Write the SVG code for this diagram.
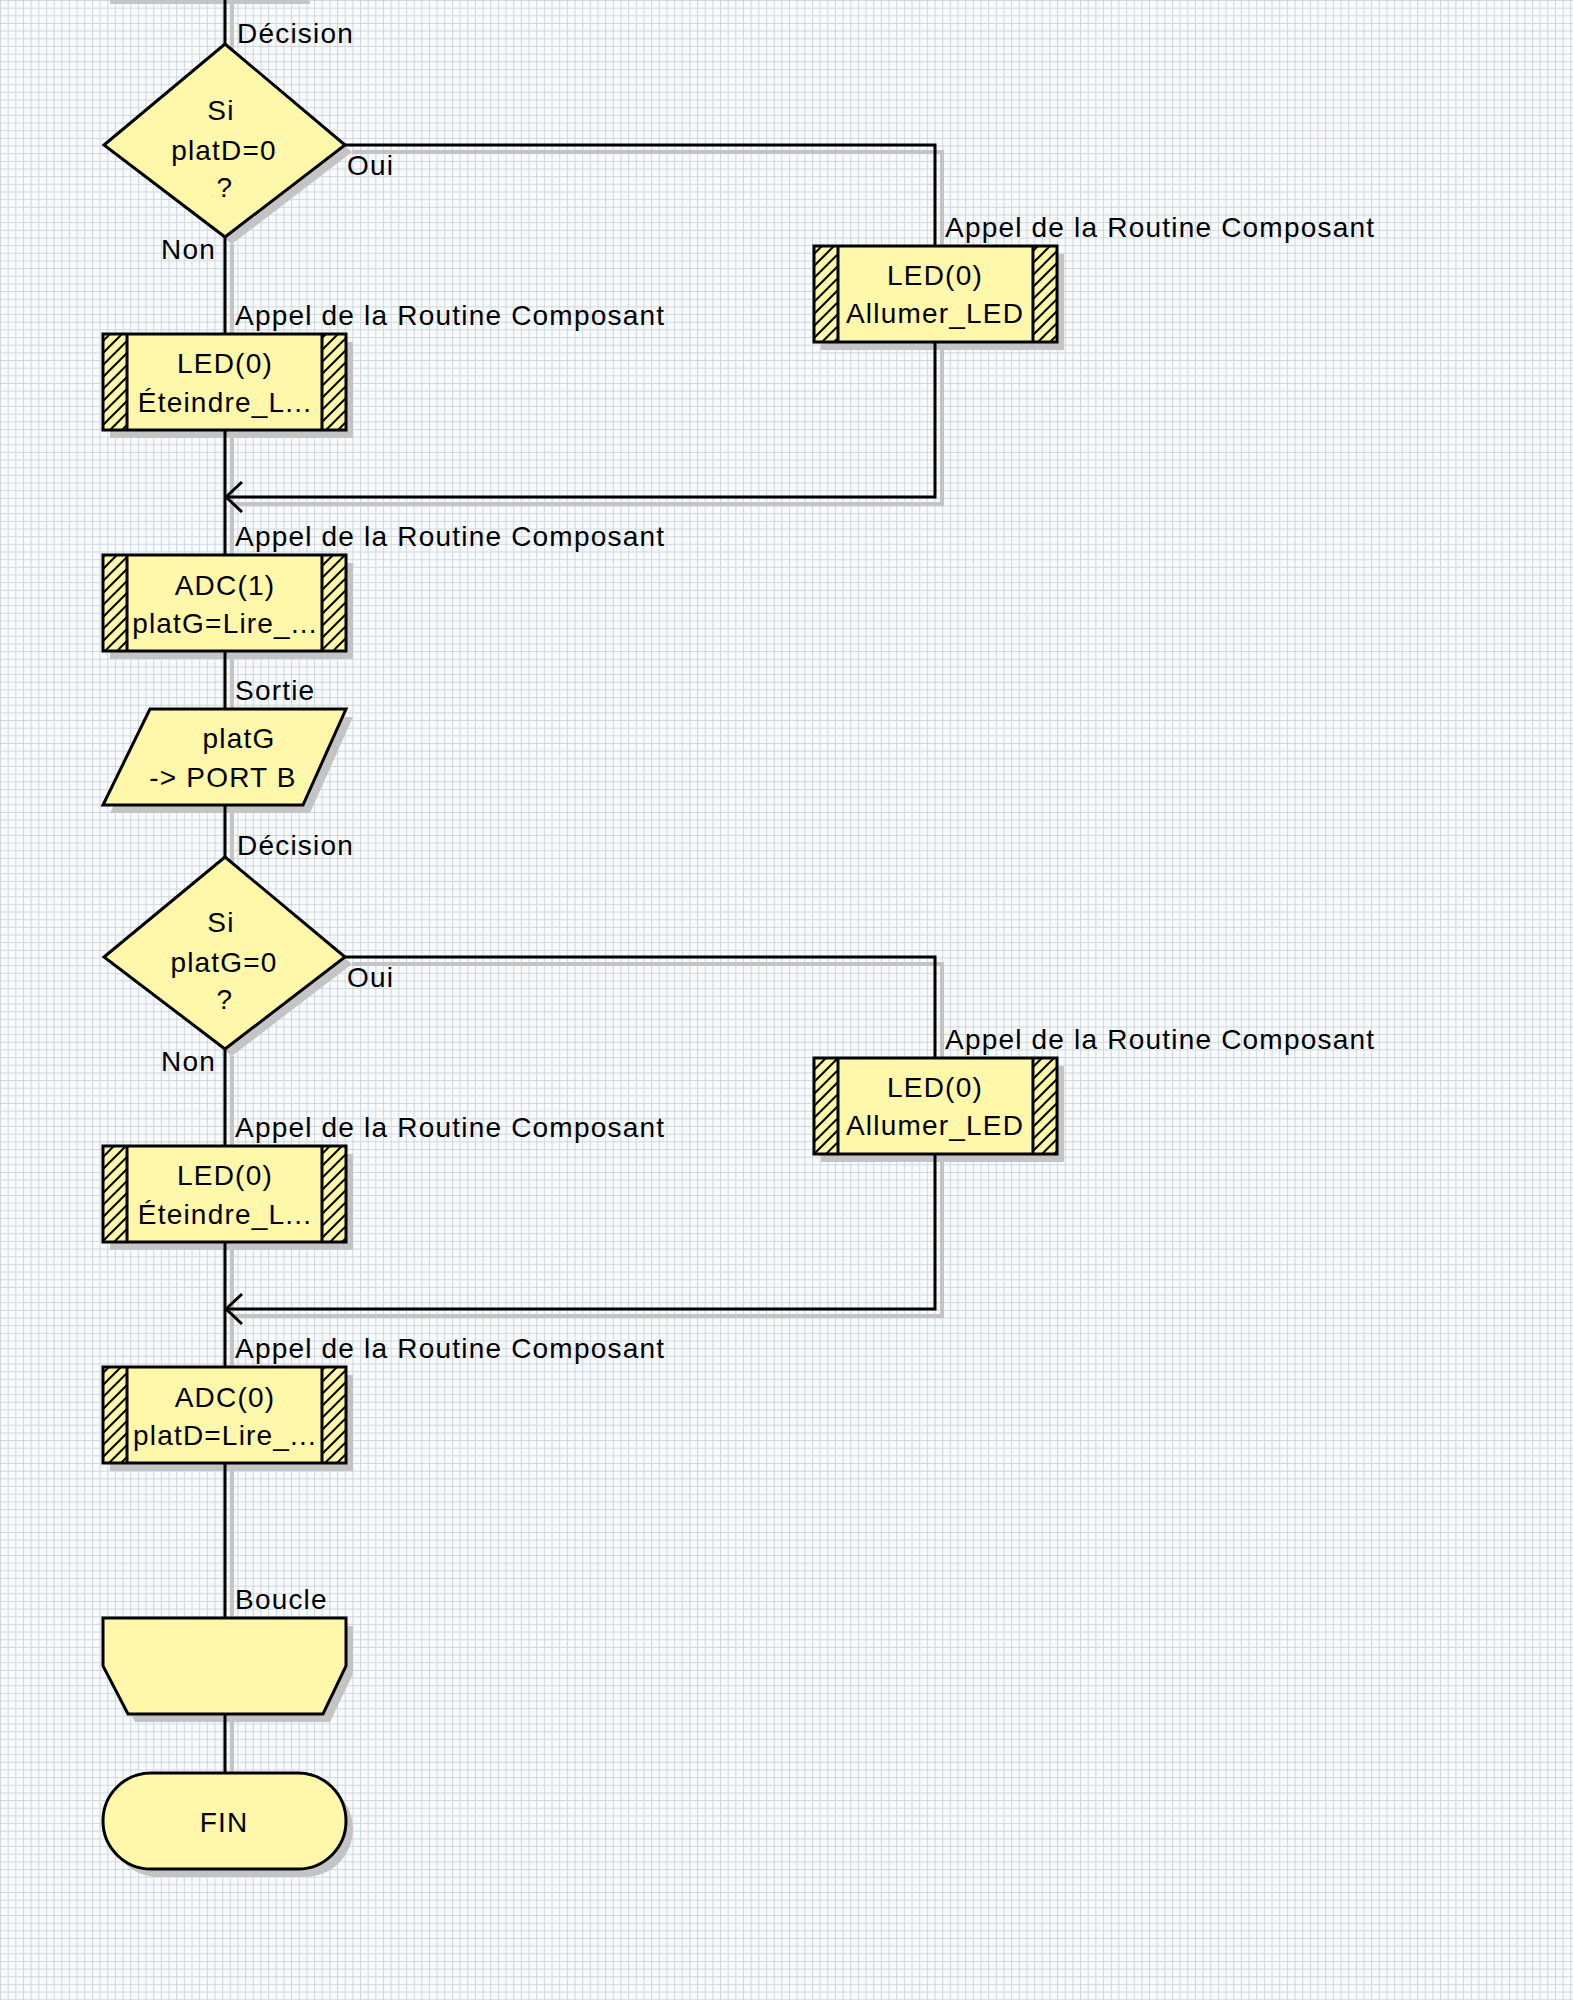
<svg xmlns="http://www.w3.org/2000/svg" width="1573" height="2000" viewBox="0 0 1573 2000">
<defs>
<style>
.t{font-family:"Liberation Sans",Arial,sans-serif;font-size:28px;letter-spacing:1.2px;fill:#000}
.m{text-anchor:middle}
.e{text-anchor:end}
.fillY{fill:#fff7aa}
.out{fill:none;stroke:#000;stroke-width:3;stroke-linejoin:miter}
.node{fill:#fff7aa;stroke:#000;stroke-width:3}
.sh{fill:#c4c4c4}
.c{fill:none;stroke:#000;stroke-width:3}
.cs{fill:none;stroke:#c4c4c4;stroke-width:4}
</style>
<pattern id="grid" width="7.66" height="7.66" patternUnits="userSpaceOnUse">
<rect width="7.66" height="7.66" fill="#f8fafc"/>
<path d="M0,0.5 H7.66 M0.5,0 V7.66" stroke="#cdd7de" stroke-width="1"/>
</pattern>
<pattern id="hatch" width="12" height="12" patternUnits="userSpaceOnUse">
<rect width="12" height="12" fill="#fff7aa"/>
<path d="M-3,3 L3,-3 M0,12 L12,0 M9,15 L15,9" stroke="#000" stroke-width="2"/>
</pattern>
<marker id="arr" markerUnits="userSpaceOnUse" markerWidth="40" markerHeight="40" refX="0" refY="0" orient="auto" overflow="visible">
<path d="M-16,-15 L0,0 L-16,15" fill="none" stroke="#000" stroke-width="3"/>
</marker>
</defs>
<rect width="1573" height="2000" fill="url(#grid)"/>

<g id="shadows">
<polygon class="sh" points="110,-20 306,-20 310,4 110,4"/>
<polygon class="sh" points="232,52 352,152 232,244 111,152"/>
<rect class="sh" x="110" y="342" width="243" height="96"/>
<rect class="sh" x="821" y="254" width="243" height="96"/>
<rect class="sh" x="110" y="563" width="243" height="96"/>
<polygon class="sh" points="157,717 353,717 310,813 110,813"/>
<polygon class="sh" points="232,864 352,964 232,1056 111,964"/>
<rect class="sh" x="110" y="1154" width="243" height="96"/>
<rect class="sh" x="821" y="1066" width="243" height="96"/>
<rect class="sh" x="110" y="1375" width="243" height="96"/>
<polygon class="sh" points="110,1626 353,1626 353,1674 330,1722 135,1722 110,1674"/>
<rect class="sh" x="110" y="1781" width="243" height="96" rx="48"/>
<g class="cs">
<path d="M232,0 V52"/>
<path d="M352,152 H942 V254"/>
<path d="M942,350 V504 H232"/>
<path d="M232,244 V342"/>
<path d="M232,438 V563"/>
<path d="M232,659 V717"/>
<path d="M232,813 V864"/>
<path d="M352,964 H942 V1066"/>
<path d="M942,1162 V1316 H232"/>
<path d="M232,1056 V1154"/>
<path d="M232,1250 V1375"/>
<path d="M232,1471 V1626"/>
<path d="M232,1722 V1781"/>
</g>
</g>

<g id="connectors">
<path class="c" d="M225,0 V44"/>
<path class="c" d="M345,145 H935 V246"/>
<path class="c" d="M935,342 V497 H226" marker-end="url(#arr)"/>
<path class="c" d="M225,237 V334"/>
<path class="c" d="M225,430 V555"/>
<path class="c" d="M225,651 V709"/>
<path class="c" d="M225,805 V857"/>
<path class="c" d="M345,957 H935 V1058"/>
<path class="c" d="M935,1154 V1309 H226" marker-end="url(#arr)"/>
<path class="c" d="M225,1049 V1146"/>
<path class="c" d="M225,1242 V1367"/>
<path class="c" d="M225,1463 V1618"/>
<path class="c" d="M225,1714 V1773"/>
<text class="t" x="237" y="43">Décision</text>
<text class="t" x="347" y="175">Oui</text>
<text class="t e" x="216" y="259">Non</text>
<text class="t" x="945" y="237">Appel de la Routine Composant</text>
<text class="t" x="235" y="325">Appel de la Routine Composant</text>
<text class="t" x="235" y="546">Appel de la Routine Composant</text>
<text class="t" x="235" y="700">Sortie</text>
<text class="t" x="237" y="855">Décision</text>
<text class="t" x="347" y="987">Oui</text>
<text class="t e" x="216" y="1071">Non</text>
<text class="t" x="945" y="1049">Appel de la Routine Composant</text>
<text class="t" x="235" y="1137">Appel de la Routine Composant</text>
<text class="t" x="235" y="1358">Appel de la Routine Composant</text>
<text class="t" x="235" y="1609">Boucle</text>
</g>

<g id="decision1">
<polygon class="node" points="225,44 345,145 225,237 104,145"/>
<text class="t m" x="221" y="120">Si</text>
<text class="t m" x="224" y="160">platD=0</text>
<text class="t m" x="225" y="197">?</text>
</g>

<g id="call_eteindre1">
<rect class="fillY" x="103" y="334" width="243" height="96"/>
<rect x="103" y="334" width="24" height="96" fill="url(#hatch)"/>
<rect x="322" y="334" width="24" height="96" fill="url(#hatch)"/>
<rect class="out" x="103" y="334" width="243" height="96"/>
<path class="out" d="M127,334 V430 M322,334 V430"/>
<text class="t m" x="225" y="373">LED(0)</text>
<text class="t m" x="225" y="412">Éteindre_L...</text>
</g>

<g id="call_allumer1">
<rect class="fillY" x="814" y="246" width="243" height="96"/>
<rect x="814" y="246" width="24" height="96" fill="url(#hatch)"/>
<rect x="1033" y="246" width="24" height="96" fill="url(#hatch)"/>
<rect class="out" x="814" y="246" width="243" height="96"/>
<path class="out" d="M838,246 V342 M1033,246 V342"/>
<text class="t m" x="935" y="285">LED(0)</text>
<text class="t m" x="935" y="323">Allumer_LED</text>
</g>

<g id="call_adc1">
<rect class="fillY" x="103" y="555" width="243" height="96"/>
<rect x="103" y="555" width="24" height="96" fill="url(#hatch)"/>
<rect x="322" y="555" width="24" height="96" fill="url(#hatch)"/>
<rect class="out" x="103" y="555" width="243" height="96"/>
<path class="out" d="M127,555 V651 M322,555 V651"/>
<text class="t m" x="225" y="595">ADC(1)</text>
<text class="t m" x="225" y="633">platG=Lire_...</text>
</g>

<g id="output_platG">
<polygon class="node" points="150,709 346,709 303,805 103,805"/>
<text class="t m" x="239" y="748">platG</text>
<text class="t m" x="223" y="787">-&gt; PORT B</text>
</g>

<g id="decision2">
<polygon class="node" points="225,857 345,957 225,1049 104,957"/>
<text class="t m" x="221" y="932">Si</text>
<text class="t m" x="224" y="972">platG=0</text>
<text class="t m" x="225" y="1009">?</text>
</g>

<g id="call_eteindre2">
<rect class="fillY" x="103" y="1146" width="243" height="96"/>
<rect x="103" y="1146" width="24" height="96" fill="url(#hatch)"/>
<rect x="322" y="1146" width="24" height="96" fill="url(#hatch)"/>
<rect class="out" x="103" y="1146" width="243" height="96"/>
<path class="out" d="M127,1146 V1242 M322,1146 V1242"/>
<text class="t m" x="225" y="1185">LED(0)</text>
<text class="t m" x="225" y="1224">Éteindre_L...</text>
</g>

<g id="call_allumer2">
<rect class="fillY" x="814" y="1058" width="243" height="96"/>
<rect x="814" y="1058" width="24" height="96" fill="url(#hatch)"/>
<rect x="1033" y="1058" width="24" height="96" fill="url(#hatch)"/>
<rect class="out" x="814" y="1058" width="243" height="96"/>
<path class="out" d="M838,1058 V1154 M1033,1058 V1154"/>
<text class="t m" x="935" y="1097">LED(0)</text>
<text class="t m" x="935" y="1135">Allumer_LED</text>
</g>

<g id="call_adc0">
<rect class="fillY" x="103" y="1367" width="243" height="96"/>
<rect x="103" y="1367" width="24" height="96" fill="url(#hatch)"/>
<rect x="322" y="1367" width="24" height="96" fill="url(#hatch)"/>
<rect class="out" x="103" y="1367" width="243" height="96"/>
<path class="out" d="M127,1367 V1463 M322,1367 V1463"/>
<text class="t m" x="225" y="1407">ADC(0)</text>
<text class="t m" x="225" y="1445">platD=Lire_...</text>
</g>

<g id="loop_end">
<polygon class="node" points="103,1618 346,1618 346,1666 323,1714 128,1714 103,1666"/>
</g>

<g id="fin">
<rect class="node" x="103" y="1773" width="243" height="96" rx="48"/>
<text class="t m" x="224" y="1832">FIN</text>
</g>
</svg>
